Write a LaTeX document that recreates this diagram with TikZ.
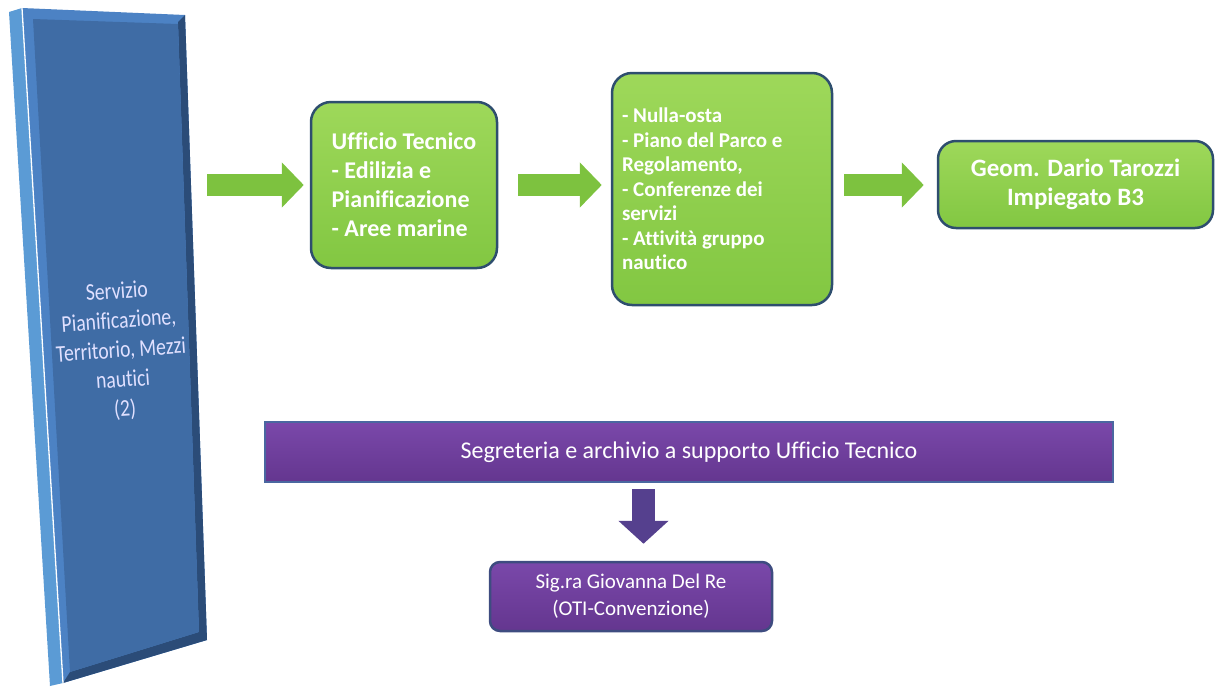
\documentclass[tikz,border=0pt]{standalone}
\usepackage{fontspec}
\setmainfont{Carlito}[Ligatures={NoCommon}]
\usetikzlibrary{arrows.meta,calc}
\definecolor{gtop}{HTML}{9ED85A}
\definecolor{gbot}{HTML}{82C742}
\definecolor{gborder}{HTML}{2E4E6E}
\definecolor{garr}{HTML}{7DC23F}
\definecolor{ptop}{HTML}{7A48AA}
\definecolor{pbot}{HTML}{64368F}
\definecolor{pborder}{HTML}{4A67A0}
\definecolor{pboxborder}{HTML}{3E4C80}
\definecolor{parr}{HTML}{55408E}
\definecolor{bstrip}{HTML}{5B9BD5}
\definecolor{bbevel}{HTML}{4C82C4}
\definecolor{bface}{HTML}{3F6CA5}
\definecolor{bdark}{HTML}{2B4C78}
\begin{document}
\begin{tikzpicture}[x=1pt,y=-1pt,
  greenbox/.style={draw=gborder,line width=2.5pt,rounded corners=20pt,
    top color=gtop,bottom color=gbot,text=white,font=\bfseries,
    inner sep=0pt,anchor=center},
  purplebar/.style={draw=pborder,line width=2.5pt,top color=ptop,bottom color=pbot,
    text=white,inner sep=0pt,anchor=center},
  purplebox/.style={draw=pboxborder,line width=2.5pt,rounded corners=10pt,
    top color=ptop,bottom color=pbot,text=white,inner sep=0pt,anchor=center},
  garrow/.style={draw=garr,line width=22pt,-{Triangle[width=44pt,length=22pt]}},
  parrow/.style={draw=parr,line width=23pt,-{Triangle[width=49pt,length=23pt]}},
]
\useasboundingbox (0,0) rectangle (1216,686);
% blue bar (perspective slab)
\fill[bstrip] (9,12) -- (22,8) -- (63,683) -- (50,686) -- cycle;
\fill[bbevel] (22,8) -- (185,15) -- (207,640) -- (63,683) -- cycle;
\fill[bdark] (178,22) -- (185,15) -- (207,640) -- (63,683) -- (70,672) -- (199,632) -- cycle;
\fill[bface] (33,19) -- (178,24) -- (199,632) -- (70,672) -- cycle;
\draw[white,line width=1.3pt] (22,8) -- (63,683);
\node[text=white!88!blue,font=\fontsize{24}{29.5}\selectfont,align=center,inner sep=0pt,
  rotate=4,xscale=0.82]
  (serv) at (121,351) {Servizio\\Pianificazione,\\Territorio, Mezzi\\nautici\\(2)};
\coordinate (bbedge) at (191,185);
% green boxes
\node[greenbox,minimum width=186pt,minimum height=166pt,align=flush left,
  font=\bfseries\fontsize{24}{29}\selectfont] (uff) at (404,185)
  {Ufficio Tecnico\\- Edilizia e\\Pianificazione\\- Aree marine};
\node[greenbox,minimum width=220pt,minimum height=232pt,text width=200pt,align=flush left,
  font=\bfseries\fontsize{21}{24.5}\selectfont] (nul) at (722,189)
  {- Nulla-osta\\- Piano del Parco e\\Regolamento,\\- Conferenze dei\\servizi\\- Attività gruppo\\nautico};
\node[greenbox,rounded corners=18pt,minimum width=275pt,minimum height=87pt,align=center,
  font=\bfseries\fontsize{25}{29}\selectfont] (geo) at (1075.5,184.5)
  {Geom. Dario Tarozzi\\Impiegato B3};
% green arrows
\draw[garrow] ($(bbedge)+(16,0)$) -- ($(uff.west)+(-6,0)$);
\draw[garrow] ($(uff.east)+(20,0)$) -- ($(nul.west |- uff.east)+(-9,0)$);
\draw[garrow] ($(nul.east |- uff.east)+(11,0)$) -- ($(geo.west |- uff.east)+(-13,0)$);
% purple part
\node[purplebar,minimum width=848pt,minimum height=60pt,
  font=\fontsize{24}{28}\selectfont] (seg) at (689,452)
  {Segreteria e archivio a supporto Ufficio Tecnico};
\node[purplebox,minimum width=282pt,minimum height=69pt,align=center,
  font=\fontsize{21}{27}\selectfont] (sig) at (631,596.5)
  {Sig.ra Giovanna Del Re\\(OTI-Convenzione)};
\coordinate (dax) at (643.5,0);
\draw[parrow] ($(seg.south -| dax)+(0,6)$) -- ($(sig.north -| dax)+(0,-17)$);
\end{tikzpicture}
\end{document}
